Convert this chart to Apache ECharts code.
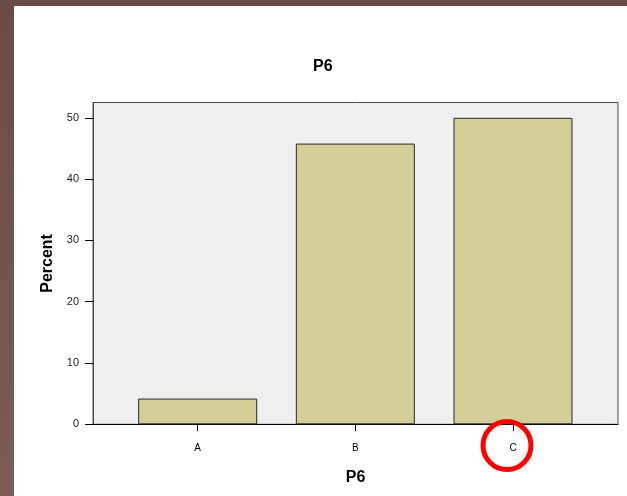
<!DOCTYPE html>
<html>
<head>
<meta charset="utf-8">
<script src="https://cdn.jsdelivr.net/npm/echarts@6/dist/echarts.min.js"></script>
<style>
html,body{margin:0;padding:0;background:#fff;}
#c{width:627px;height:496px;}
</style>
</head>
<body>
<div id="c"></div>
<script>
const categories = ['A', 'B', 'C'];
const percents = [4.2, 45.8, 50.0];
const yTicks = [0, 10, 20, 30, 40, 50];

const chart = echarts.init(document.getElementById('c'), null, {renderer: 'canvas'});
const positions = categories.map((_, i) => i);
const FONT = '"Liberation Sans", Arial, sans-serif';

const option = {
  backgroundColor: '#ffffff',
  animation: false,
  title: {
    text: 'P6', left: 308, top: 54,
    textStyle: {fontFamily: FONT, fontSize: 16, fontWeight: 'bold', color: '#000'}
  },
  grid: {
    left: 93, right: 9, top: 102.5, bottom: 71.7,
    show: true, backgroundColor: '#efefef', borderColor: '#4a4a4a', borderWidth: 1
  },
  xAxis: {
    type: 'value', min: -0.664, max: 2.666,
    name: 'P6', nameLocation: 'middle', nameGap: 45,
    nameTextStyle: {fontFamily: FONT, fontSize: 16, fontWeight: 'bold', color: '#000'},
    splitLine: {show: false},
    axisLine: {show: true, onZero: false, lineStyle: {color: '#000', width: 1}},
    axisTick: {show: true, length: 7, customValues: positions, lineStyle: {color: '#000'}},
    axisLabel: {
      customValues: positions, margin: 19,
      formatter: v => categories[Math.round(v)] || '',
      fontFamily: FONT, fontSize: 10, color: '#000'
    }
  },
  yAxis: {
    type: 'value', min: 0, max: 52.5,
    name: 'Percent', nameLocation: 'middle', nameGap: 34, nameRotate: 90,
    nameTextStyle: {fontFamily: FONT, fontSize: 16, fontWeight: 'bold', color: '#000'},
    splitLine: {show: false},
    axisLine: {show: true, onZero: false, lineStyle: {color: '#4a4a4a', width: 1}},
    axisTick: {show: true, length: 8, customValues: yTicks, lineStyle: {color: '#000'}},
    axisLabel: {
      customValues: yTicks, margin: 14,
      fontFamily: FONT, fontSize: 11, color: '#222'
    }
  },
  series: [{
    type: 'bar',
    barWidth: 119,
    data: positions.map((p, i) => [p, percents[i]]),
    itemStyle: {color: '#d3cd98', borderColor: '#2a2a2a', borderWidth: 1}
  }]
};
chart.setOption(option);

// frame strips and annotation circle around category C
const cx = chart.convertToPixel({xAxisIndex: 0}, 2);
chart.setOption({
  graphic: [
    {type: 'rect', left: 0, top: 0, z: 100, shape: {width: 627, height: 6}, style: {fill: '#6b4a47'}},
    {type: 'rect', left: 0, top: 0, z: 100, shape: {width: 14, height: 496},
      style: {fill: new echarts.graphic.LinearGradient(0, 0, 0, 1, [
        {offset: 0, color: '#6b4a47'}, {offset: 1, color: '#7b5c58'}])}},
    {type: 'circle', x: cx - 6, y: 445.5, z: 100, shape: {r: 24},
      style: {fill: 'none', stroke: '#ff0000', lineWidth: 5}}
  ]
});
</script>
</body>
</html>
